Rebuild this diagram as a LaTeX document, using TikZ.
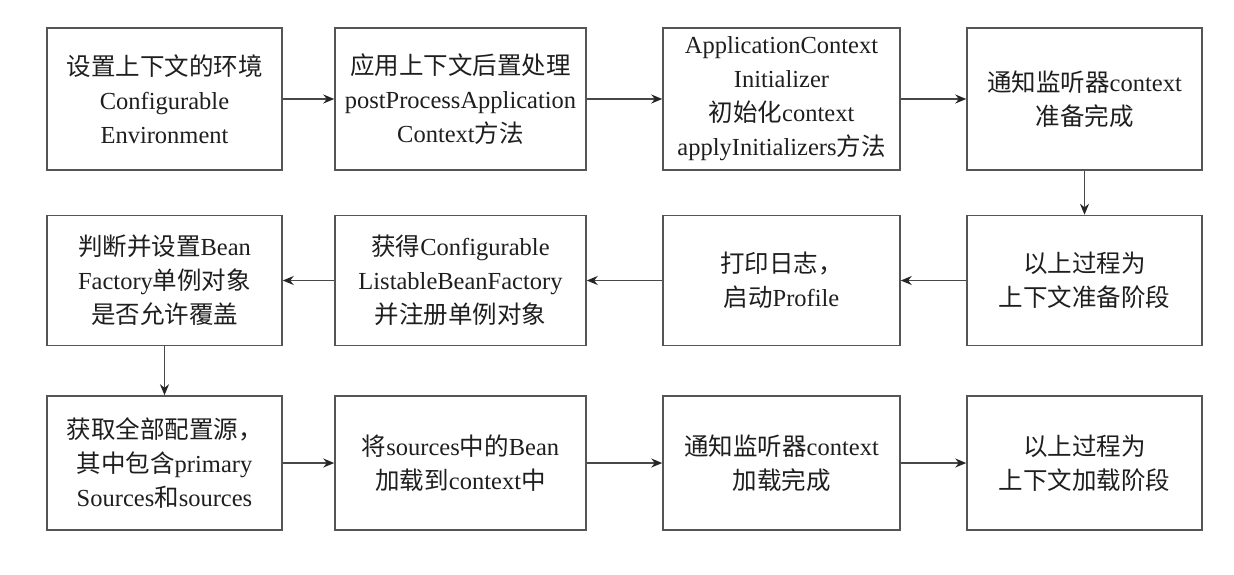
\documentclass[tikz,border=0pt]{standalone}
\usepackage{fontspec}
\setmainfont{Liberation Serif}
\newfontfamily\cjk{Noto Sans CJK SC}
\newcommand{\zh}[1]{{\cjk #1}}
\usetikzlibrary{arrows.meta}
\definecolor{boxgray}{HTML}{555555}
\definecolor{inkgray}{HTML}{1E1E1E}

\begin{document}
\begin{tikzpicture}[x=1pt,y=-1pt,
		stage/.style={draw=boxgray,line width=1.5pt,align=center,text=inkgray,inner sep=0pt,
			font=\fontsize{24.5}{34}\selectfont},
		flow/.style={draw=boxgray!85!black,line width=1.5pt,-{Stealth[length=11pt,width=9pt,color=black!85]}}]
			\useasboundingbox (0,0) rectangle (1234,574);
			% first row
			\node[stage,minimum width=235,minimum height=142] (env) at (164.5,99) {\zh{设置上下文的环境}\\Configurable\\Environment};
			\node[stage,minimum width=251,minimum height=142] (post) at (460.5,99) {\zh{应用上下文后置处理}\\postProcessApplication\\Context\zh{方法}};
			\node[stage,minimum width=237,minimum height=142] (init) at (781.5,99) {ApplicationContext\\Initializer\\\zh{初始化}context\\applyInitializers\zh{方法}};
			\node[stage,minimum width=235,minimum height=142] (ready) at (1084.5,99) {\zh{通知监听器}context\\\zh{准备完成}};

			% second row
			\node[stage,minimum width=235,minimum height=130] (prepared) at (1084.5,280.5) {\zh{以上过程为}\\\zh{上下文准备阶段}};
			\node[stage,minimum width=237,minimum height=130] (banner) at (781.5,280.5) {\zh{打印日志，}\\\zh{启动}Profile};
			\node[stage,minimum width=251,minimum height=130] (factory) at (460.5,280.5) {\zh{获得}Configurable\\ListableBeanFactory\\\zh{并注册单例对象}};
			\node[stage,minimum width=235,minimum height=130] (override) at (164.5,280.5) {\zh{判断并设置}Bean\\Factory\zh{单例对象}\\\zh{是否允许覆盖}};

			% third row
			\node[stage,minimum width=235,minimum height=134] (sources) at (164.5,463) {\zh{获取全部配置源，}\\\zh{其中包含}primary\\Sources\zh{和}sources};
			\node[stage,minimum width=251,minimum height=134] (load) at (460.5,463) {\zh{将}sources\zh{中的}Bean\\\zh{加载到}context\zh{中}};
			\node[stage,minimum width=237,minimum height=134] (loaded) at (781.5,463) {\zh{通知监听器}context\\\zh{加载完成}};
			\node[stage,minimum width=235,minimum height=134] (loadstage) at (1084.5,463) {\zh{以上过程为}\\\zh{上下文加载阶段}};

			\draw[flow] (env) -- (post);
			\draw[flow] (post) -- (init);
			\draw[flow] (init) -- (ready);
			\draw[flow] (ready) -- (prepared);
			\draw[flow] (prepared) -- (banner);
			\draw[flow] (banner) -- (factory);
			\draw[flow] (factory) -- (override);
			\draw[flow] (override) -- (sources);
			\draw[flow] (sources) -- (load);
			\draw[flow] (load) -- (loaded);
			\draw[flow] (loaded) -- (loadstage);
\end{tikzpicture}
\end{document}
